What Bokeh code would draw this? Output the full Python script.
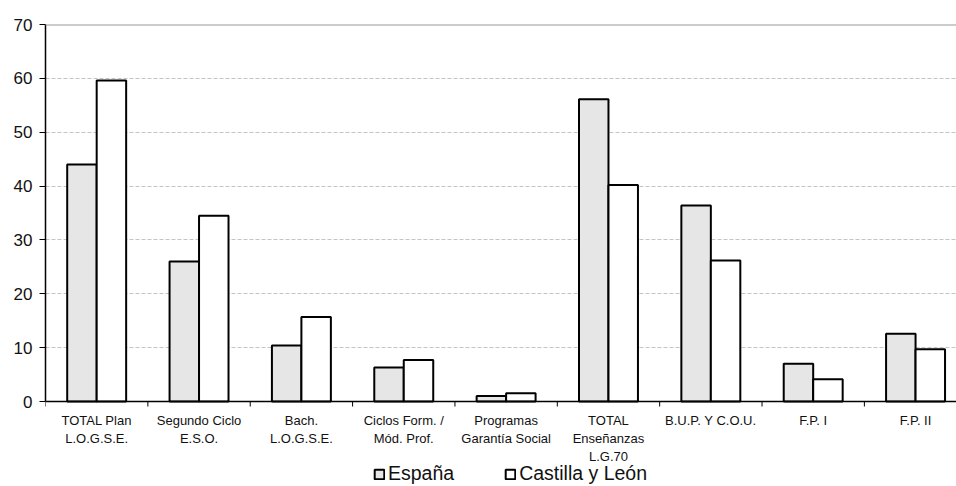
import math
from bokeh.plotting import figure
from bokeh.models import (ColumnDataSource, Range1d, FixedTicker, Span, Legend, LegendItem)
from bokeh.core.properties import value
from bokeh.transform import dodge
from bokeh.embed import file_html
from bokeh.resources import INLINE

categories = ["TOTAL Plan\nL.O.G.S.E.", "Segundo Ciclo\nE.S.O.", "Bach.\nL.O.G.S.E.",
              "Ciclos Form. /\nMód. Prof.", "Programas\nGarantía Social",
              "TOTAL\nEnseñanzas\nL.G.70", "B.U.P. Y C.O.U.", "F.P. I", "F.P. II"]
espana = [44.0, 26.0, 10.4, 6.3, 1.0, 56.1, 36.4, 7.0, 12.6]
castilla = [59.6, 34.5, 15.7, 7.7, 1.55, 40.2, 26.2, 4.15, 9.7]
series_names = ["España", "Castilla y León"]
y_ticks = [0, 10, 20, 30, 40, 50, 60, 70]

FONT = "Liberation Sans"
n = len(categories)
centers = [i + 0.5 for i in range(n)]
src = ColumnDataSource(dict(x=centers, esp=espana, cyl=castilla, label=categories))

# frame: top at 24px, value 0 at 401px, frame bottom at 486px
px_per_unit = (401 - 24) / 70.0
y_start = -(486 - 401) / px_per_unit

p = figure(width=956, height=486, output_backend="svg", toolbar_location=None,
           x_range=Range1d(0, 8.9), y_range=Range1d(y_start, 70),
           min_border_left=45, min_border_top=24, min_border_bottom=0, min_border_right=0)
p.outline_line_color = None
p.background_fill_color = "white"
p.xaxis.visible = False
p.xgrid.grid_line_color = None

p.ygrid.ticker = FixedTicker(ticks=y_ticks[1:-1])
p.ygrid.grid_line_color = "#c4c4c4"
p.ygrid.grid_line_dash = "4 2"
p.ygrid.grid_line_width = 1

p.add_layout(Span(location=70, dimension="width", line_color="#999999", line_width=2))

bw = 0.288
r1 = p.vbar(x=dodge("x", -bw / 2), top="esp", width=bw, bottom=0, source=src,
            fill_color="#e6e6e6", line_color="black", line_width=2)
r2 = p.vbar(x=dodge("x", bw / 2), top="cyl", width=bw, bottom=0, source=src,
            fill_color="white", line_color="black", line_width=2)

# category axis drawn at value 0
p.add_layout(Span(location=0, dimension="width", line_color="black", line_width=1.5))
p.ray(x=list(range(n + 1)), y=0, length=5, length_units="screen", angle=-math.pi / 2,
      line_color="black", line_width=1)
p.text(x="x", y=0, text="label", source=src, y_offset=11, text_align="center",
       text_baseline="top", text_font=value(FONT), text_font_size="13px",
       text_line_height=1.2, text_color="#111111")

ya = p.yaxis[0]
ya.ticker = FixedTicker(ticks=y_ticks)
ya.bounds = (0, 70)
ya.major_tick_out = 6
ya.major_tick_in = 0
ya.minor_tick_line_color = None
ya.axis_line_color = "black"
ya.axis_line_width = 1.5
ya.major_tick_line_color = "black"
ya.major_label_text_font = FONT
ya.major_label_text_font_size = "17px"
ya.major_label_text_color = "#111111"
ya.major_label_standoff = 7

legend = Legend(items=[LegendItem(label=series_names[0], renderers=[r1]),
                       LegendItem(label=series_names[1], renderers=[r2])],
                location=(328, 1), orientation="horizontal",
                border_line_color=None, background_fill_alpha=0,
                padding=0, margin=0, spacing=50, label_standoff=3,
                glyph_width=12, glyph_height=12,
                label_text_font=FONT, label_text_font_size="19.5px",
                label_text_color="#111111")
p.add_layout(legend, "center")

open("out.html", "w").write(file_html(p, INLINE))
